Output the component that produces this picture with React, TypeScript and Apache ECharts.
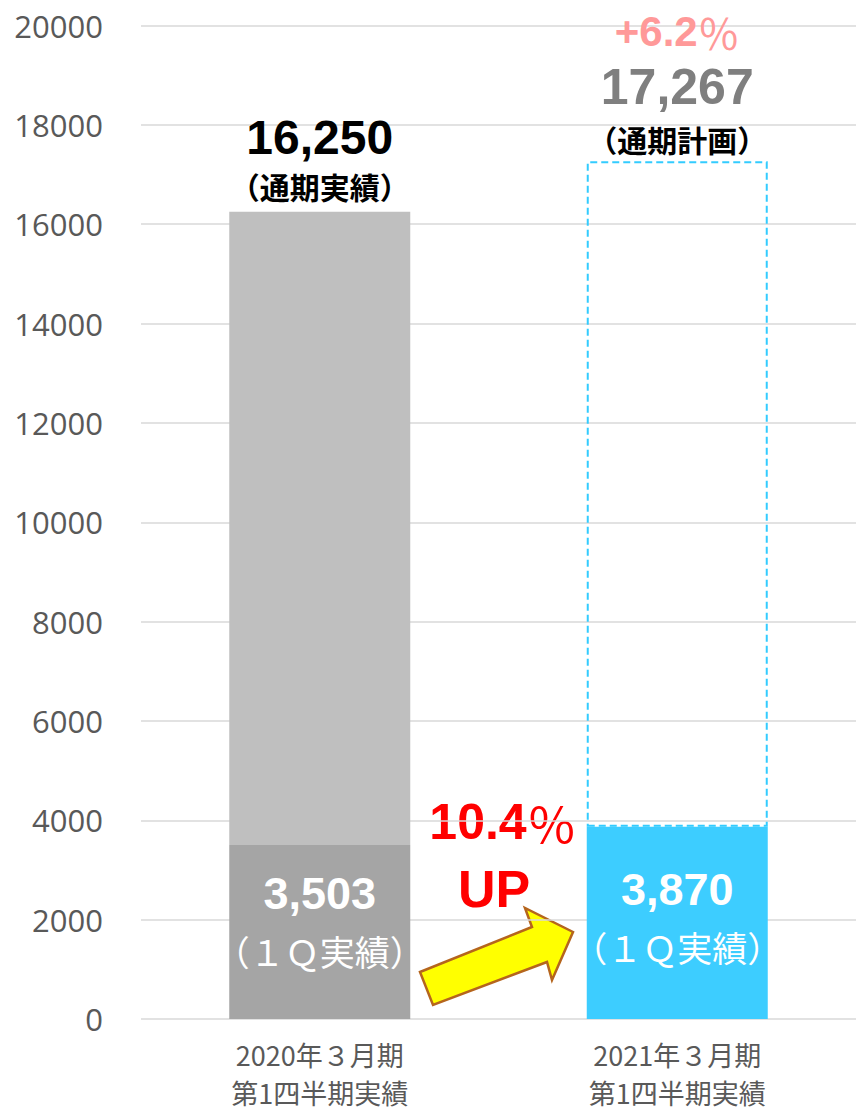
import React, { useEffect, useRef } from "react";
import * as echarts from "echarts";

const categories = ["2020年３月期\n第1四半期実績", "2021年３月期\n第1四半期実績"];
const q1Values = [3503, 3870];
const fullYearValues = [16250, 17267];
const fullYearNotes = ["（通期実績）", "（通期計画）"];
const q1Note = "（１Ｑ実績）";
const planGrowthText = "+6.2";
const q1GrowthText = "10.4";
const upText = "UP";
const yMin = 0;
const yMax = 20000;
const yInterval = 2000;

const fmt = (v: number) => v.toLocaleString("en-US");
const NUM = "'Liberation Sans', Arial, sans-serif";
const JP = "'Noto Sans CJK JP', sans-serif";

export default function App() {
  const ref = useRef<HTMLDivElement>(null);
  useEffect(() => {
    document.body.style.margin = "0";
    const chart = echarts.init(ref.current!, undefined, { renderer: "svg" });
    const option: any = {
      animation: false,
      grid: { left: 141, right: -6, top: 25.5, bottom: 96 },
      xAxis: {
        type: "category",
        data: categories,
        axisLine: { show: false },
        axisTick: { show: false },
        axisLabel: {
          interval: 0,
          fontSize: 27,
          lineHeight: 38,
          color: "#595959",
          fontFamily: JP,
          margin: 16,
        },
      },
      yAxis: {
        type: "value",
        min: yMin,
        max: yMax,
        interval: yInterval,
        axisLine: { show: false },
        axisTick: { show: false },
        splitLine: { lineStyle: { color: "#d9d9d9", width: 1.5 } },
        axisLabel: {
          fontSize: 31,
          color: "#595959",
          fontFamily: "'Open Sans', sans-serif",
          margin: 38,
          formatter: (v: number) => String(v),
        },
      },
      series: [
        {
          type: "bar",
          stack: "total",
          barWidth: 181,
          data: q1Values.map((v, i) => ({
            value: v,
            itemStyle: { color: i === 0 ? "#a5a5a5" : "#3dcdff" },
            label: { offset: [0, i === 0 ? -10 : -5] },
          })),
          label: {
            show: true,
            position: "inside",
            formatter: (p: any) => `{v|${fmt(p.value)}}\n{s|${q1Note}}`,
            rich: {
              v: { fontSize: 45, fontWeight: "bold", color: "#fff", fontFamily: NUM, lineHeight: 57 },
              s: { fontSize: 35, color: "#fff", fontFamily: JP, lineHeight: 57 },
            },
          },
        },
        {
          type: "bar",
          stack: "total",
          barWidth: 181,
          data: fullYearValues.map((v, i) => ({
            value: v - q1Values[i],
            itemStyle:
              i === 0
                ? { color: "#bfbfbf" }
                : {
                    color: "rgba(0,0,0,0)",
                    borderColor: "#33ccff",
                    borderWidth: 2,
                    borderType: [7, 4],
                  },
            label:
              i === 0
                ? {
                    show: true,
                    position: "top",
                    distance: 6,
                    formatter: `{a|${fmt(v)}}\n{b|${fullYearNotes[i]}}`,
                  }
                : {
                    show: true,
                    position: "top",
                    distance: 2,
                    formatter: `{p|${planGrowthText}}{q|％}\n{g|${fmt(v)}}\n{b|${fullYearNotes[i]}}`,
                  },
          })),
          label: {
            show: true,
            position: "top",
            rich: {
              a: { fontSize: 48, fontWeight: "bold", color: "#000", fontFamily: NUM, lineHeight: 56 },
              b: { fontSize: 30, fontWeight: "bold", color: "#000", fontFamily: JP, lineHeight: 40 },
              p: { fontSize: 42, fontWeight: "bold", color: "#ff9999", fontFamily: NUM, lineHeight: 48 },
              q: { fontSize: 42, fontWeight: "normal", color: "#ff9999", fontFamily: JP, lineHeight: 48 },
              g: { fontSize: 50, fontWeight: "bold", color: "#7f7f7f", fontFamily: NUM, lineHeight: 64 },
            },
          },
        },
      ],
      graphic: [
        {
          type: "polygon",
          shape: {
            points: [
              [420, 972],
              [532, 927],
              [525, 908],
              [573, 932],
              [552, 980],
              [547, 962],
              [433, 1005],
            ],
          },
          style: { fill: "#ffff00", stroke: "#b5651d", lineWidth: 2.5 },
        },
        {
          type: "text",
          x: 503,
          y: 822,
          style: {
            text: `{n|${q1GrowthText}}{p|％}`,
            align: "center",
            verticalAlign: "middle",
            textAlign: "center",
            textVerticalAlign: "middle",
            rich: {
              n: { fontSize: 50, fontWeight: "bold", fontFamily: NUM, fill: "#ff0000", color: "#ff0000" },
              p: { fontSize: 50, fontWeight: "normal", fontFamily: JP, fill: "#ff0000", color: "#ff0000" },
            },
          },
        },
        {
          type: "text",
          x: 494,
          y: 889,
          style: {
            text: upText,
            fontSize: 52,
            fontWeight: "bold",
            fontFamily: NUM,
            fill: "#ff0000",
            align: "center",
            verticalAlign: "middle",
            textAlign: "center",
            textVerticalAlign: "middle",
          },
        },
      ],
    };
    chart.setOption(option);
    return () => chart.dispose();
  }, []);
  return <div ref={ref} style={{ width: 856, height: 1115 }} />;
}
